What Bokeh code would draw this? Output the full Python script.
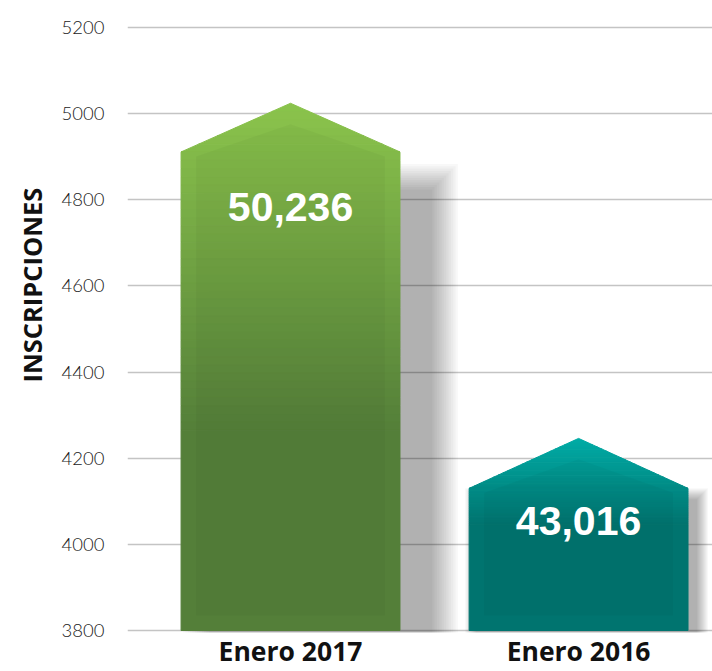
from bokeh.plotting import figure
from bokeh.models import Range1d, FixedTicker, Title, ColumnDataSource
from bokeh.core.properties import value
from bokeh.embed import file_html
from bokeh.resources import INLINE

# ---------------- data ----------------
categories = ["Enero 2017", "Enero 2016"]
cat_pos = [1, 2]
peak_values = [5024, 4246]          # tip of each arrow-shaped bar
shoulder_values = [4911, 4130]      # where the roof begins
value_labels = ["50,236", "43,016"]
label_levels = [4784, 4054]
y_ticks = [3800, 4000, 4200, 4400, 4600, 4800, 5000, 5200]
y_title = "INSCRIPCIONES"

# ---------------- styles ----------------
BASE = 3800
HALF_W = 0.38
PXX = 1.0 / 288.0          # data units per px (x)
PXY = 1400.0 / 606.0       # data units per px (y)
FRAME_TOP, FRAME_BOTTOM = 17, 635
top_cols = [(139, 196, 76), (0, 172, 166)]
bot_cols = [(84, 127, 57), (0, 116, 111)]
grad_frac = [0.62, 0.45]
shadow_dx = [30, 8]
shadow_dy = [40, 12]
shadow_r = [28, 12]

y_end = 5200 + (27 - FRAME_TOP) * PXY
y_start = y_end - (FRAME_BOTTOM - FRAME_TOP) * PXY

p = figure(width=712, height=671, output_backend="svg", toolbar_location=None,
           x_range=Range1d(0.434, 2.465),
           y_range=Range1d(y_start, y_end),
           min_border_left=127, min_border_right=0, min_border_top=FRAME_TOP,
           min_border_bottom=671 - FRAME_BOTTOM)
p.outline_line_color = None
p.background_fill_color = "white"
p.border_fill_color = "white"
p.xgrid.grid_line_color = None
p.ygrid.grid_line_color = "#c4c4c4"
p.ygrid.grid_line_width = 1.5
p.yaxis.ticker = FixedTicker(ticks=y_ticks)
p.yaxis.axis_line_color = None
p.yaxis.major_tick_line_color = None
p.yaxis.minor_tick_line_color = None
p.yaxis.major_tick_out = 0
p.yaxis.major_tick_in = 0
p.yaxis.minor_tick_out = 0
p.yaxis.major_label_text_font = "Lato Light, Lato, sans-serif"
p.yaxis.major_label_text_font_size = "18.5px"
p.yaxis.major_label_text_color = "#1a1a1a"
p.yaxis.major_label_standoff = 23
p.xaxis.ticker = FixedTicker(ticks=cat_pos)
p.xaxis.major_label_overrides = {c: n for c, n in zip(cat_pos, categories)}
p.xaxis.axis_line_color = None
p.xaxis.major_tick_line_color = None
p.xaxis.minor_tick_line_color = None
p.xaxis.major_tick_out = 0
p.xaxis.major_tick_in = 0
p.xaxis.minor_tick_out = 0
p.xaxis.major_label_text_font = "Open Sans"
p.xaxis.major_label_text_font_style = "bold"
p.xaxis.major_label_text_font_size = "26.5px"
p.xaxis.major_label_text_color = "#111111"
p.xaxis.major_label_standoff = 0

p.add_layout(Title(text=y_title, align="left", offset=250, standoff=19,
                   text_font="Open Sans", text_font_style="bold",
                   text_font_size="25.5px", text_color="#111111"), "left")


def lerp(a, b, t):
    return "#%02x%02x%02x" % tuple(int(round(a[i] + (b[i] - a[i]) * t)) for i in range(3))


def half_width_at(y, peak, shoulder):
    if y <= shoulder:
        return HALF_W
    return HALF_W * (peak - y) / (peak - shoulder)


def band(c, y0, y1, peak, shoulder):
    xs = [c - half_width_at(y0, peak, shoulder), c + half_width_at(y0, peak, shoulder),
          c + half_width_at(y1, peak, shoulder), c - half_width_at(y1, peak, shoulder)]
    ys = [y0, y0, y1, y1]
    return xs, ys


# soft shadows
for i, c in enumerate(cat_pos):
    s = shoulder_values[i]
    dx = shadow_dx[i] * PXX
    dy = shadow_dy[i] * PXY
    K = 12
    sx, sy = [], []
    for k in range(K):
        r = shadow_r[i] * (1 - k / K)
        rx, ry = r * PXX, r * PXY
        x0 = c - HALF_W + dx - rx
        x1 = c + HALF_W + dx + rx
        y0 = BASE - 2 * PXY - ry * 0.6
        y1 = s - dy + ry
        sx.append([x0, x1, x1, x0])
        sy.append([y0, y0, y1, y1])
    p.patches(sx, sy, fill_color="black", fill_alpha=0.027, line_color=None)

# bars with vertical gradient
for i, c in enumerate(cat_pos):
    peak, s = peak_values[i], shoulder_values[i]
    total = peak - BASE
    gend = peak - total * grad_frac[i]
    N = 40
    edges = [peak - (peak - gend) * k / N for k in range(N + 1)]
    edges = sorted(set(edges + [s]), reverse=True)
    xs_l, ys_l, cols = [], [], []
    for a, b in zip(edges[:-1], edges[1:]):
        t = (peak - (a + b) / 2) / (peak - gend)
        xs, ys = band(c, b, a, peak, s)
        xs_l.append(xs)
        ys_l.append(ys)
        cols.append(lerp(top_cols[i], bot_cols[i], min(max(t, 0), 1)))
    xs, ys = band(c, BASE, gend, peak, s)
    xs_l.append(xs)
    ys_l.append(ys)
    cols.append(lerp(top_cols[i], bot_cols[i], 1))
    src = ColumnDataSource(dict(xs=xs_l, ys=ys_l, col=cols))
    p.patches("xs", "ys", source=src, fill_color="col", line_color="col", line_width=1)
    # inner inset panel
    ix, iy = 15 * PXX, 15 * PXY
    inner_x = [c - HALF_W + ix, c + HALF_W - ix, c + HALF_W - ix, c, c - HALF_W + ix]
    inner_y = [BASE + iy, BASE + iy, s - iy * 0.3, peak - iy * 1.4, s - iy * 0.3]
    p.patch(inner_x, inner_y, fill_color="black", fill_alpha=0.03, line_color=None)

p.text(x=cat_pos, y=label_levels, text=value_labels, text_color="white",
       text_font=value("Liberation Sans"), text_font_style="bold",
       text_font_size="41px", text_align="center", text_baseline="middle")

open("out.html", "w").write(file_html(p, INLINE))
